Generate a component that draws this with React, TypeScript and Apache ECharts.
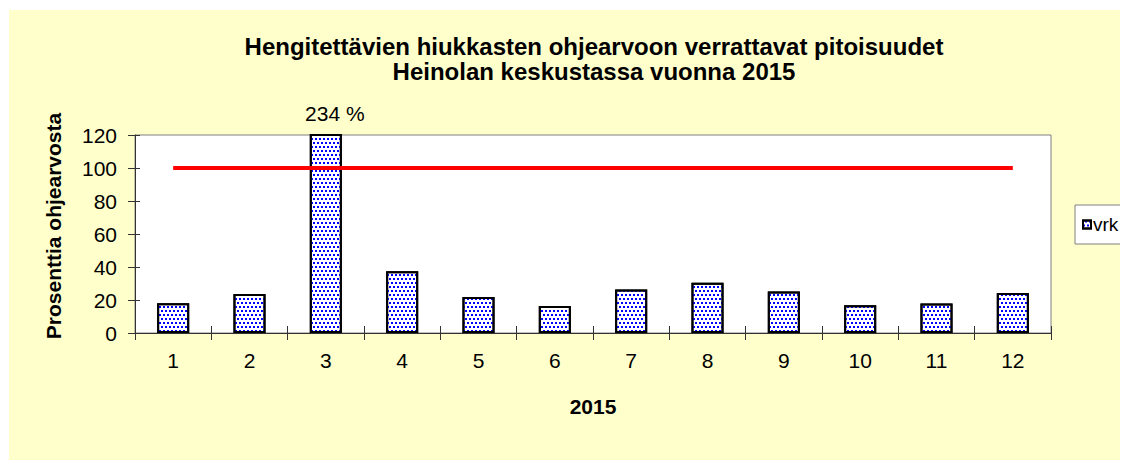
import React, { useEffect, useRef } from "react";
import * as echarts from "echarts";

const months = ["1", "2", "3", "4", "5", "6", "7", "8", "9", "10", "11", "12"];
const vrk = [18, 23.6, 234, 37.4, 21.8, 16.3, 26.4, 30.4, 25.1, 16.8, 17.9, 24.3];
const guideline = [100, 100, 100, 100, 100, 100, 100, 100, 100, 100, 100, 100];
const yMin = 0;
const yMax = 120;
const yInterval = 20;
const titleText = "Hengitettävien hiukkasten ohjearvoon verrattavat pitoisuudet\nHeinolan keskustassa vuonna 2015";
const yName = "Prosenttia ohjearvosta";
const xName = "2015";
const seriesName = "vrk";
const peakLabel = "234 %";

const FONT = "'Liberation Sans', Arial, sans-serif";

export default function App() {
  const ref = useRef<HTMLDivElement>(null);
  useEffect(() => {
    if (!ref.current) return;
    const chart = echarts.init(ref.current, null, { renderer: "svg" });
    const peakIndex = vrk.indexOf(Math.max(...vrk));
    chart.setOption({
      animation: false,
      backgroundColor: "#FFFFCC",
      textStyle: { fontFamily: FONT },
      title: {
        text: titleText,
        left: 585,
        top: 24,
        padding: 0,
        textAlign: "center",
        textStyle: { fontFamily: FONT, fontSize: 24, fontWeight: "bold", color: "#000", lineHeight: 25 },
      },
      legend: {
        data: [seriesName],
        left: 1066,
        top: 195,
        orient: "vertical",
        padding: [10, 30, 10, 7],
        backgroundColor: "#fff",
        borderColor: "#808080",
        borderWidth: 1,
        borderRadius: 0,
        itemWidth: 8,
        itemHeight: 8,
        icon: "rect",
        textStyle: { fontFamily: FONT, fontSize: 19, color: "#000", padding: [0, 0, 0, -3] },
      },
      grid: {
        left: 126,
        top: 125,
        right: 77,
        bottom: 127,
        show: true,
        backgroundColor: "#fff",
        borderColor: "#808080",
        borderWidth: 1,
      },
      xAxis: [
        {
          type: "category",
          data: months,
          boundaryGap: true,
          axisLine: { show: true, lineStyle: { color: "#333", width: 1 } },
          axisTick: { show: true, inside: false, length: 7, lineStyle: { color: "#333" } },
          axisLabel: { fontFamily: FONT, fontSize: 21, color: "#000", margin: 17 },
          name: xName,
          nameLocation: "middle",
          nameGap: 63,
          nameTextStyle: { fontFamily: FONT, fontSize: 21, fontWeight: "bold", color: "#000" },
        },
        {
          type: "category",
          data: months,
          position: "bottom",
          boundaryGap: true,
          axisLine: { show: false },
          axisTick: { show: true, inside: true, length: 7, lineStyle: { color: "#333" } },
          axisLabel: { show: false },
        },
      ],
      yAxis: [
        {
          type: "value",
          min: yMin,
          max: yMax,
          interval: yInterval,
          splitLine: { show: false },
          axisLine: { show: true, lineStyle: { color: "#333", width: 1 } },
          axisTick: { show: true, inside: false, length: 7, lineStyle: { color: "#333" } },
          axisLabel: { fontFamily: FONT, fontSize: 21, color: "#000", margin: 18 },
          name: yName,
          nameLocation: "middle",
          nameGap: 71,
          nameRotate: 90,
          nameTextStyle: { fontFamily: FONT, fontSize: 21, fontWeight: "bold", color: "#000", padding: [0, 0, 0, 16] },
        },
        {
          type: "value",
          min: yMin,
          max: yMax,
          interval: yInterval,
          position: "left",
          splitLine: { show: false },
          axisLine: { show: false },
          axisTick: { show: true, inside: true, length: 5, lineStyle: { color: "#333" } },
          axisLabel: { show: false },
        },
      ],
      series: [
        {
          name: seriesName,
          type: "bar",
          data: vrk,
          barWidth: "42%",
          clip: true,
          itemStyle: {
            color: "#fff",
            borderColor: "#000",
            borderWidth: 2,
            decal: {
              symbol: "rect",
              symbolSize: 1,
              color: "#0000FF",
              backgroundColor: "#fff",
              dashArrayX: [[2, 2], [0, 2, 2, 0]],
              dashArrayY: [2, 2],
              rotation: 0,
            },
          },
          markPoint: {
            symbol: "circle",
            symbolSize: 0,
            data: [{ coord: [peakIndex, yMax], value: vrk[peakIndex] }],
            label: {
              show: true,
              position: "top",
              distance: 11,
              offset: [9, 0],
              formatter: peakLabel,
              fontFamily: FONT,
              fontSize: 21,
              color: "#000",
            },
          },
        },
        {
          name: "ohjearvo",
          type: "line",
          data: guideline,
          symbol: "none",
          lineStyle: { color: "#FF0000", width: 4 },
          itemStyle: { color: "#FF0000" },
          z: 3,
        },
      ],
    });
    return () => chart.dispose();
  }, []);
  return (
    <div style={{ paddingLeft: 1, paddingTop: 2 }}>
      <div ref={ref} style={{ width: 1119, height: 450 }} />
    </div>
  );
}
